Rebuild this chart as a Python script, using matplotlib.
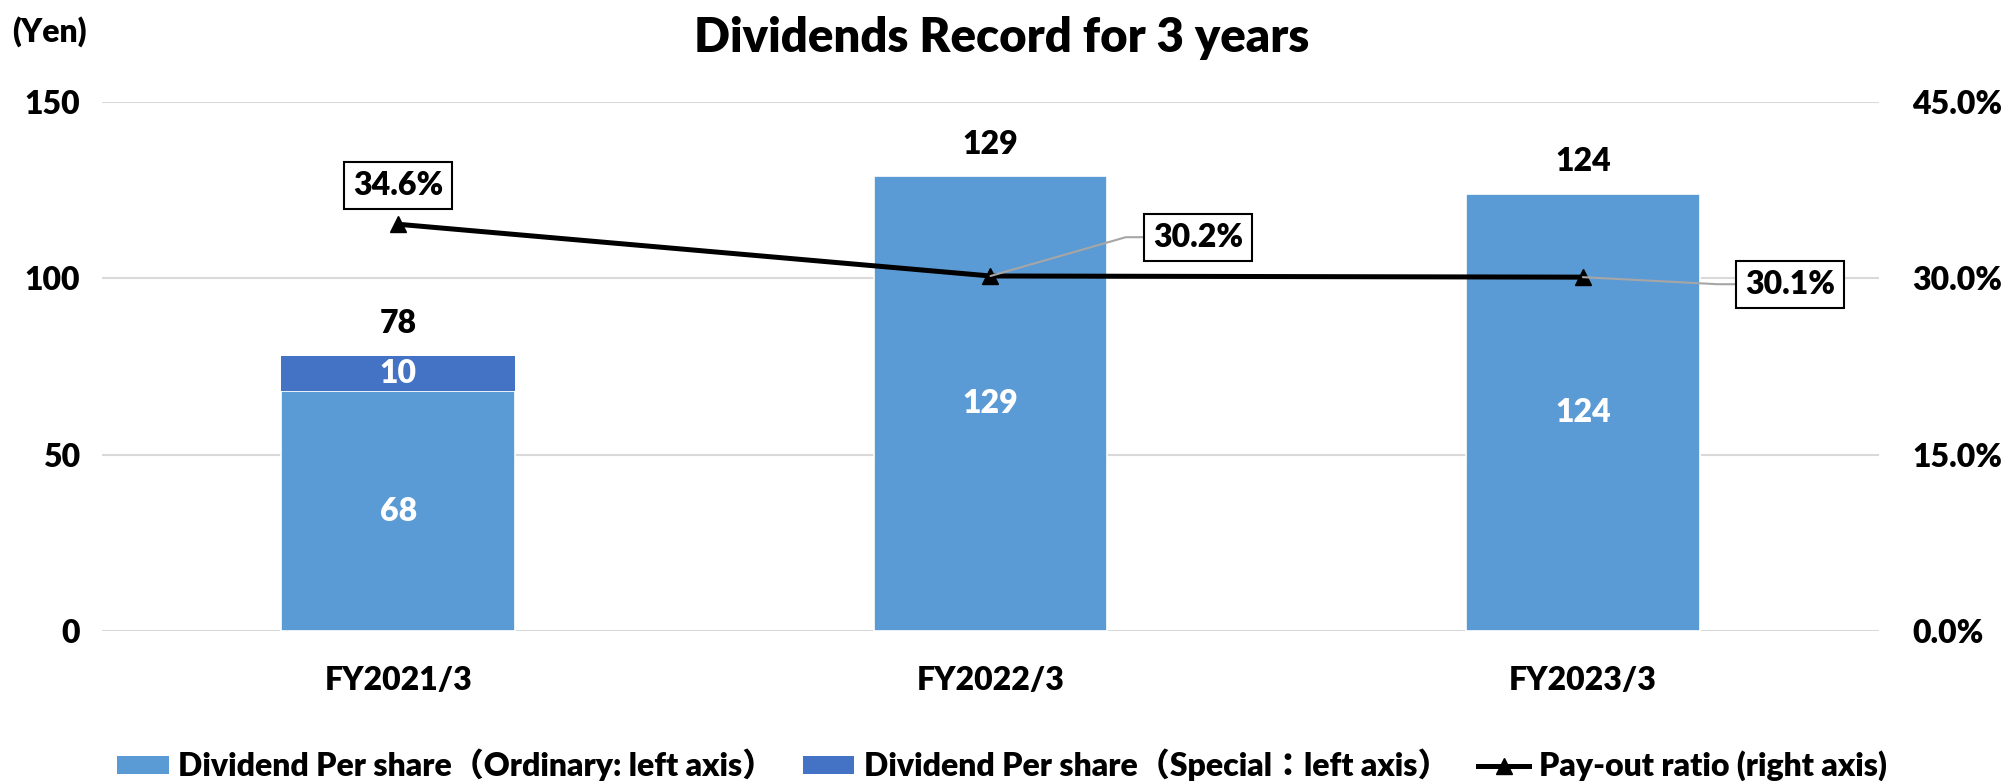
import matplotlib
matplotlib.use("Agg")
import matplotlib.pyplot as plt
from matplotlib.patches import Patch
from matplotlib.lines import Line2D

plt.rcParams["font.family"] = ["Lato", "Noto Sans CJK JP", "DejaVu Sans"]
plt.rcParams["font.weight"] = "heavy"

categories = ["FY2021/3", "FY2022/3", "FY2023/3"]
ordinary = [68, 129, 124]
special = [10, 0, 0]
totals = [78, 129, 124]
payout = [34.6, 30.2, 30.1]
payout_labels = ["34.6%", "30.2%", "30.1%"]

C_ORD = "#5B9BD5"
C_SPE = "#4472C4"
GRID = "#D9D9D9"
WT = "heavy"

fig = plt.figure(figsize=(20.04, 7.81), dpi=100)
ax = fig.add_axes([102 / 2004, 150 / 781, 1777 / 2004, 529 / 781])
ax2 = ax.twinx()

x = list(range(len(categories)))
w = 0.395
ax.bar(x, ordinary, width=w, color=C_ORD, edgecolor="white", linewidth=1.2, zorder=2)
ax.bar(x[:1], special[:1], bottom=ordinary[:1], width=w, color=C_SPE, zorder=2)

fs = 23
for i in x:
    ax.text(i, ordinary[i] / 2, str(ordinary[i]), ha="center", va="center",
            color="white", fontsize=fs, fontweight=WT, zorder=3)
    if special[i]:
        ax.text(i, ordinary[i] + special[i] / 2, str(special[i]), ha="center", va="center",
                color="white", fontsize=fs, fontweight=WT, zorder=3)
    ax.annotate(str(totals[i]), (i, totals[i]), xytext=(0, 23), textcoords="offset points",
                ha="center", va="center", fontsize=fs, fontweight=WT)

ax.set_xlim(-0.5, 2.5)
ax.set_ylim(0, 150)
ax.set_yticks([0, 50, 100, 150])
ax.set_xticks(x)
ax.set_xticklabels(categories)
ax.grid(axis="y", color=GRID, linewidth=1.5, zorder=0)
ax.set_axisbelow(True)
ax.tick_params(axis="y", length=0, pad=16, labelsize=fs)
ax.tick_params(axis="x", length=0, pad=25, labelsize=fs)
for s in ax.spines.values():
    s.set_visible(False)

ax2.set_ylim(0, 45)
ax2.set_yticks([0, 15, 30, 45])
ax2.set_yticklabels(["0.0%", "15.0%", "30.0%", "45.0%"])
ax2.tick_params(axis="y", length=0, pad=24, labelsize=fs)
for s in ax2.spines.values():
    s.set_visible(False)

ax2.plot(x, payout, color="black", linewidth=3.6, marker="^", markersize=11, zorder=4)

box = dict(boxstyle="square,pad=0.28", facecolor="white", edgecolor="black", linewidth=1.5)
ax2.text(0, 37.9, payout_labels[0], ha="center", va="center", fontsize=fs,
         fontweight=WT, bbox=box, zorder=5)
ax2.annotate(payout_labels[1], (1, payout[1]), xytext=(1.35, 33.5), ha="center", va="center",
             fontsize=fs, fontweight=WT, bbox=box, zorder=5,
             arrowprops=dict(arrowstyle="-", color="#A6A6A6", lw=1.5, shrinkA=0, shrinkB=0,
                             relpos=(0, 0.5),
                             connectionstyle="angle,angleA=0,angleB=16,rad=0"))
ax2.annotate(payout_labels[2], (2, payout[2]), xytext=(2.35, 29.5), ha="center", va="center",
             fontsize=fs, fontweight=WT, bbox=box, zorder=5,
             arrowprops=dict(arrowstyle="-", color="#A6A6A6", lw=1.5, shrinkA=0, shrinkB=0,
                             relpos=(0, 0.5),
                             connectionstyle="angle,angleA=0,angleB=-3,rad=0"))

fig.text(0.5, 1 - 38 / 781, "Dividends Record for 3 years", ha="center", va="center",
         fontsize=34, fontweight=WT)
fig.text(49 / 2004, 1 - 32 / 781, "(Yen)", ha="center", va="center", fontsize=fs, fontweight=WT)

handles = [
    Patch(facecolor=C_ORD),
    Patch(facecolor=C_SPE),
    Line2D([], [], color="black", linewidth=3.6, marker="^", markersize=11),
]
labels = [
    "Dividend Per share（Ordinary: left axis）",
    "Dividend Per share（Special：left axis）",
    "Pay-out ratio (right axis)",
]
fig.legend(handles, labels, loc="center", bbox_to_anchor=(0.5, 16 / 781), ncol=3, frameon=False,
           prop=dict(size=fs, weight=WT), handlelength=1.6, handleheight=0.5,
           handletextpad=0.3, columnspacing=0.9)

fig.savefig("out.png", dpi=100)
